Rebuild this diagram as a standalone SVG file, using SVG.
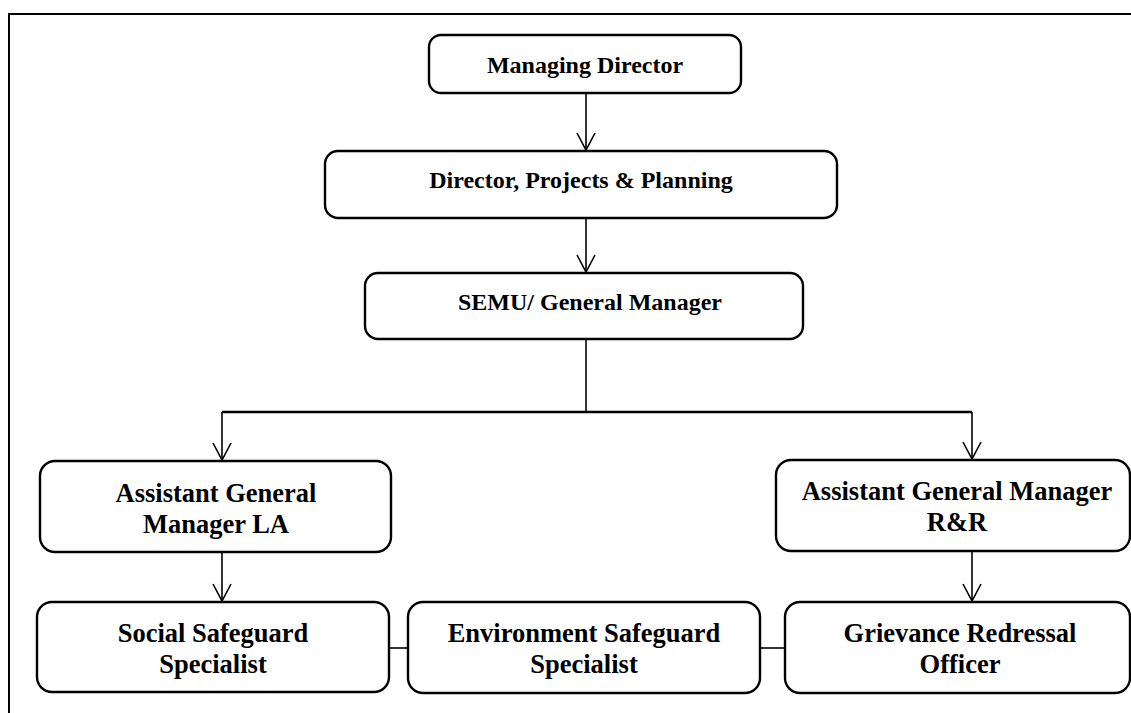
<svg xmlns="http://www.w3.org/2000/svg" width="1131" height="713" viewBox="0 0 1131 713">
  <style>
    .box { fill: #ffffff; stroke: #000000; stroke-width: 2.4; }
    .lbl { font-family: "Liberation Serif", "Times New Roman", serif; font-weight: bold; fill: #000000; text-anchor: middle; }
    .top { font-size: 24px; }
    .low { font-size: 26.5px; }
    .wire { fill: none; stroke: #000000; stroke-width: 1.6; }
    .bus { fill: none; stroke: #000000; stroke-width: 2.5; }
  </style>
  <defs>
    <!-- open V arrowhead, tip at the line end -->
    <marker id="vee" markerUnits="userSpaceOnUse" markerWidth="24" markerHeight="24" viewBox="-21 -12 24 24" refX="0" refY="0" orient="auto">
      <path d="M-17,-9 L0,0 L-17,9" fill="none" stroke="#000000" stroke-width="1.6"/>
    </marker>
  </defs>

  <rect width="1131" height="713" fill="#ffffff"/>
  <!-- outer frame -->
  <path d="M9,720 L9,14 L1140,14" fill="none" stroke="#000000" stroke-width="2"/>

  <g id="connectors">
    <line class="wire" x1="586" y1="93" x2="586" y2="150" marker-end="url(#vee)"/>
    <line class="wire" x1="586" y1="218" x2="586" y2="272" marker-end="url(#vee)"/>
    <line class="wire" x1="586" y1="339" x2="586" y2="412"/>
    <path class="bus" d="M222,412 L972,412"/>
    <line class="wire" x1="222" y1="412" x2="222" y2="460" marker-end="url(#vee)"/>
    <line class="wire" x1="972" y1="412" x2="972" y2="459" marker-end="url(#vee)"/>
    <line class="wire" x1="222" y1="552" x2="222" y2="601" marker-end="url(#vee)"/>
    <line class="wire" x1="972" y1="551" x2="972" y2="601" marker-end="url(#vee)"/>
    <line class="wire" x1="389" y1="648" x2="408" y2="648"/>
    <line class="wire" x1="760" y1="648" x2="785" y2="648"/>
  </g>

  <g id="managing-director">
    <rect class="box" x="429" y="35" width="312" height="58" rx="12"/>
    <text class="lbl top" x="585" y="73">Managing Director</text>
  </g>

  <g id="director-projects">
    <rect class="box" x="325" y="151" width="512" height="67" rx="13"/>
    <text class="lbl top" x="581" y="188">Director, Projects &amp; Planning</text>
  </g>

  <g id="semu-gm">
    <rect class="box" x="365" y="273" width="438" height="66" rx="13"/>
    <text class="lbl top" x="590" y="310">SEMU/ General Manager</text>
  </g>

  <g id="agm-la">
    <rect class="box" x="40" y="461" width="351" height="91" rx="15"/>
    <text class="lbl low" x="216" y="502">Assistant General</text>
    <text class="lbl low" x="216" y="533">Manager LA</text>
  </g>

  <g id="agm-rr">
    <rect class="box" x="776" y="460" width="354" height="91" rx="15"/>
    <text class="lbl low" x="957" y="500">Assistant General Manager</text>
    <text class="lbl low" x="957" y="531">R&amp;R</text>
  </g>

  <g id="social-safeguard">
    <rect class="box" x="37" y="602" width="352" height="90" rx="15"/>
    <text class="lbl low" x="213" y="642">Social Safeguard</text>
    <text class="lbl low" x="213" y="673">Specialist</text>
  </g>

  <g id="environment-safeguard">
    <rect class="box" x="408" y="602" width="352" height="91" rx="15"/>
    <text class="lbl low" x="584" y="642">Environment Safeguard</text>
    <text class="lbl low" x="584" y="673">Specialist</text>
  </g>

  <g id="grievance-officer">
    <rect class="box" x="785" y="602" width="345" height="91" rx="15"/>
    <text class="lbl low" x="960" y="642">Grievance Redressal</text>
    <text class="lbl low" x="960" y="673">Officer</text>
  </g>
</svg>
